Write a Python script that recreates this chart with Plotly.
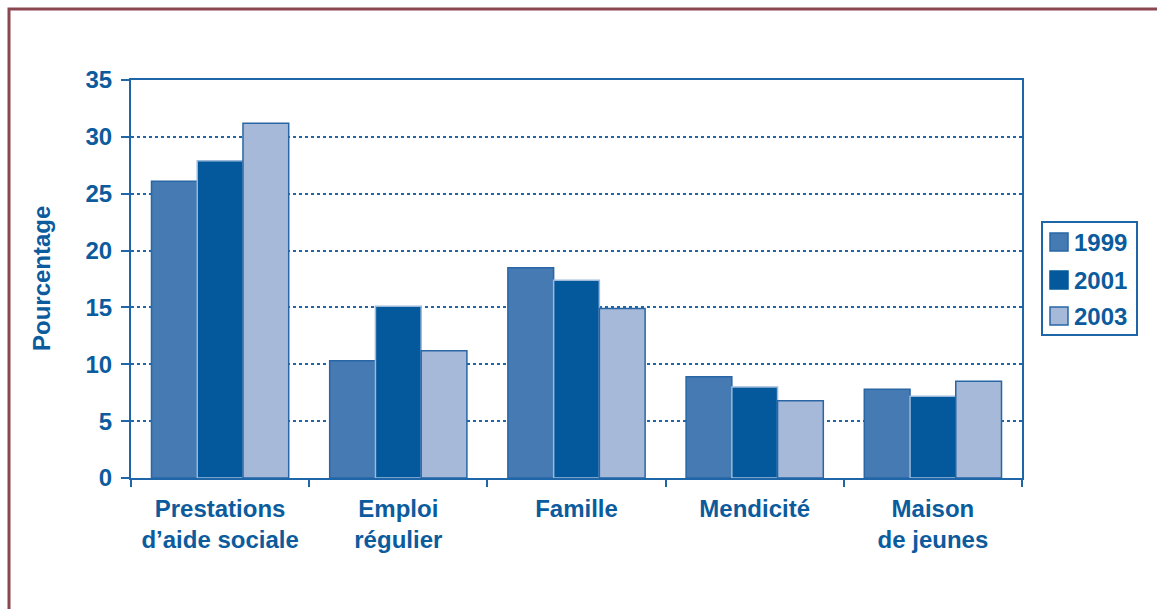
import plotly.graph_objects as go

categories = ["Prestations<br>d’aide sociale", "Emploi<br>régulier", "Famille", "Mendicité", "Maison<br>de jeunes"]
years = ["1999", "2001", "2003"]
v1999 = [26.1, 10.3, 18.5, 8.9, 7.8]
v2001 = [27.9, 15.1, 17.4, 8.0, 7.2]
v2003 = [31.2, 11.2, 14.9, 6.8, 8.5]
y_ticks = [0, 5, 10, 15, 20, 25, 30, 35]

series = [v1999, v2001, v2003]
fills = ["#467ab3", "#03599c", "#a6b9d8"]
lines = ["#2866a6", "#9dbadb", "#2866a6"]

TXT = "#0b5b9d"
AX = "#1f66a8"
FONT = "Liberation Sans, Arial, sans-serif"
FS = 24

fig = go.Figure()
for i, (yr, vals) in enumerate(zip(years, series)):
    fig.add_trace(go.Bar(
        x=categories, y=vals, name=yr,
        marker=dict(color=fills[i], line=dict(color=lines[i], width=1.5)),
        showlegend=False,
    ))

W, H = 1157, 609
L, R, T, B = 131, W - 1022, 80, H - 478
pw, ph = W - L - R, H - T - B

def px(x):
    return (x - L) / pw

def py(y):
    return 1 - (y - T) / ph

shapes = [
    dict(type="rect", xref="paper", yref="paper",
         x0=px(9), x1=px(W + 20), y0=py(H + 20), y1=py(9),
         line=dict(color="#8a4750", width=3), layer="below"),
    dict(type="rect", xref="paper", yref="paper",
         x0=px(1042), x1=px(1137), y0=py(335), y1=py(222),
         line=dict(color=AX, width=2), fillcolor="white"),
]
annotations = [dict(
    text="Pourcentage", textangle=-90, xref="paper", yref="paper",
    x=px(41), y=py(279), xanchor="center", yanchor="middle", showarrow=False,
    font=dict(family=FONT, size=FS, color=TXT, weight="bold"),
)]
row_centers = [242, 280, 316]
for i, yr in enumerate(years):
    yc = row_centers[i]
    shapes.append(dict(type="rect", xref="paper", yref="paper",
                       x0=px(1050), x1=px(1068), y0=py(yc + 9), y1=py(yc - 9),
                       fillcolor=fills[i], line=dict(color=lines[i] if i != 1 else fills[i], width=1.5)))
    annotations.append(dict(text=yr, xref="paper", yref="paper", x=px(1072), y=py(yc),
                            xanchor="left", yanchor="middle", showarrow=False,
                            font=dict(family=FONT, size=FS, color=TXT, weight="bold")))

fig.update_layout(
    width=W, height=H,
    margin=dict(l=L, r=R, t=T, b=B, pad=0),
    paper_bgcolor="white", plot_bgcolor="white",
    barmode="group", bargap=0.23, bargroupgap=0,
    font=dict(family=FONT, color=TXT, size=FS),
    showlegend=False,
    xaxis=dict(
        type="category", tickson="boundaries", ticks="outside", ticklen=7,
        tickwidth=2, tickcolor=AX, showline=True, linecolor=AX, linewidth=2,
        mirror=True, showgrid=False,
        tickfont=dict(family=FONT, size=FS, color=TXT, weight="bold"),
        ticklabelstandoff=8,
    ),
    yaxis=dict(
        range=[0, 35], tickvals=y_ticks, ticks="outside", ticklen=8,
        tickwidth=2, tickcolor=AX, showline=True, linecolor=AX, linewidth=2,
        mirror=True, showgrid=True, gridcolor=AX, gridwidth=1.5, griddash="dot",
        zeroline=False,
        tickfont=dict(family=FONT, size=FS, color=TXT, weight="bold"),
        ticklabelstandoff=4,
    ),
    annotations=annotations,
    shapes=shapes,
)

fig.write_html("out.html", config={"displayModeBar": False},
               post_script="document.body.style.margin='0';document.body.style.overflow='hidden';")
